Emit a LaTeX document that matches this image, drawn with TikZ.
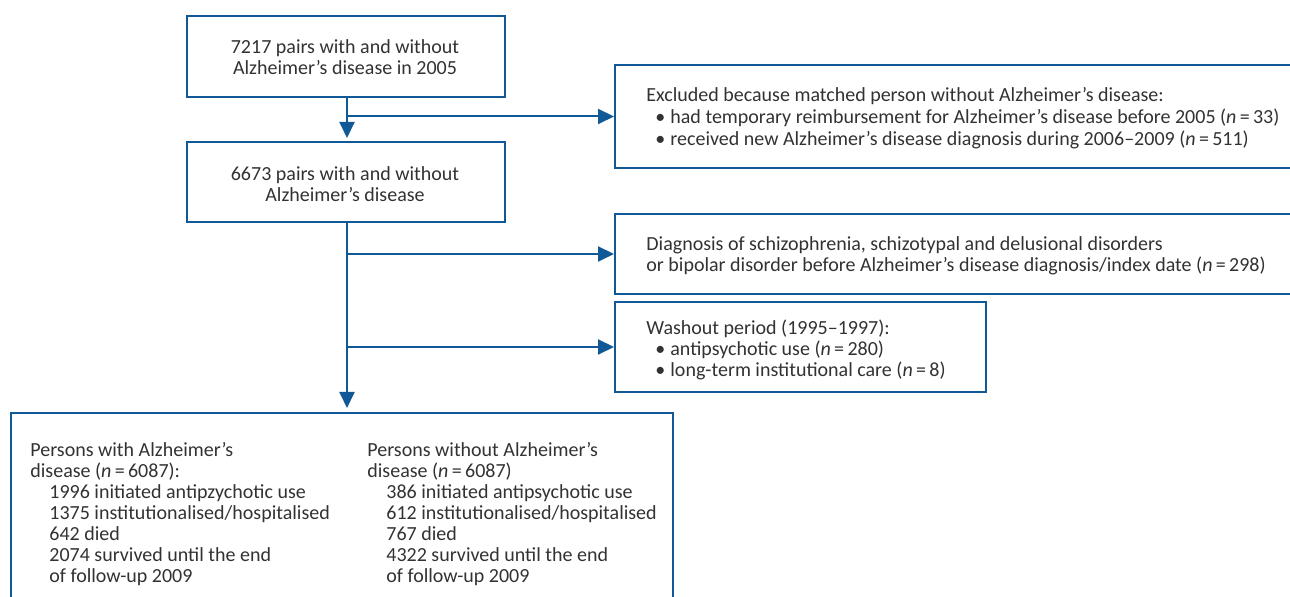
\documentclass[tikz,border=0pt]{standalone}
\usepackage{fontspec}
\setmainfont{Carlito}
\usetikzlibrary{arrows.meta}
\definecolor{lineblue}{RGB}{16,88,150}
\definecolor{txtgray}{RGB}{50,50,50}
\newcommand{\mybul}{\makebox[12pt][l]{\hspace{4.5pt}\textbullet}}
\newcommand{\myn}[1]{({\itshape n}\,=\,#1)}
\newcommand{\myind}{\hspace*{9.5pt}}
\begin{document}
\begin{tikzpicture}[x=0.5pt,y=-0.5pt,
  box/.style={draw=lineblue, line width=1pt, inner sep=0pt, anchor=north west},
  lbl/.style={text=txtgray, font=\fontsize{10}{10.5}\selectfont, inner sep=0pt, align=left},
  conn/.style={draw=lineblue, line width=1pt},
  arr/.style={conn, -{Triangle[length=8pt,width=7.5pt]}}]
\useasboundingbox (0,0) rectangle (1290,597);
\clip (0,0) rectangle (1290,597);
% boxes
\node[box, minimum width=159pt, minimum height=40.5pt] (b1) at (186,15) {};
\node[box, minimum width=159pt, minimum height=40pt] (b2) at (186,141) {};
\node[box, minimum width=400pt, minimum height=51.5pt] (b3) at (614,64) {};
\node[box, minimum width=400pt, minimum height=40pt] (b4) at (614,213) {};
\node[box, minimum width=185.5pt, minimum height=45pt] (b5) at (614,301) {};
\node[box, minimum width=331pt, minimum height=125pt] (b6) at (10,412) {};
% texts
\node[lbl, align=center] (t1) at (345,57.5) {7217 pairs with and without\\Alzheimer's disease in 2005};
\node[lbl, align=center] (t2) at (345,184.5) {6673 pairs with and without\\Alzheimer's disease};
\node[lbl, anchor=north west, font=\fontsize{10}{11}\selectfont] (t3) at (646,87) {Excluded because matched person without Alzheimer's disease:\\
\mybul had temporary reimbursement for Alzheimer's disease before 2005 \myn{33}\\
\mybul received new Alzheimer's disease diagnosis during 2006--2009 \myn{511}};
\node[lbl, anchor=north west] (t4) at (646,236) {Diagnosis of schizophrenia, schizotypal and delusional disorders\\
or bipolar disorder before Alzheimer's disease diagnosis/index date \myn{298}};
\node[lbl, anchor=north west] (t5) at (646,319) {Washout period (1995--1997):\\
\mybul antipsychotic use \myn{280}\\
\mybul long-term institutional care \myn{8}};
\node[lbl, anchor=north west] (t6) at (30,442) {Persons with Alzheimer's\\
disease \myn{6087}:\\
\myind 1996 initiated antipzychotic use\\
\myind 1375 institutionalised/hospitalised\\
\myind 642 died\\
\myind 2074 survived until the end\\
\myind of follow-up 2009};
\node[lbl, anchor=north west] (t7) at (367,442) {Persons without Alzheimer's\\
disease \myn{6087}\\
\myind 386 initiated antipsychotic use\\
\myind 612 institutionalised/hospitalised\\
\myind 767 died\\
\myind 4322 survived until the end\\
\myind of follow-up 2009};
% connectors
\coordinate (spine) at (347,0);
\coordinate (s1) at (b3.west -| spine);
\coordinate (s2) at (b4.west -| spine);
\coordinate (s3) at (b5.west -| spine);
\draw[arr, shorten >=1.5pt] (b1.south -| spine) -- (b2.north -| spine);
\draw[arr] (s1) -- (b3.west);
\draw[arr, shorten >=2pt] (b2.south -| spine) -- (b6.north -| spine);
\draw[arr] (s2) -- (b4.west);
\draw[arr] (s3) -- (b5.west);
\end{tikzpicture}
\end{document}
